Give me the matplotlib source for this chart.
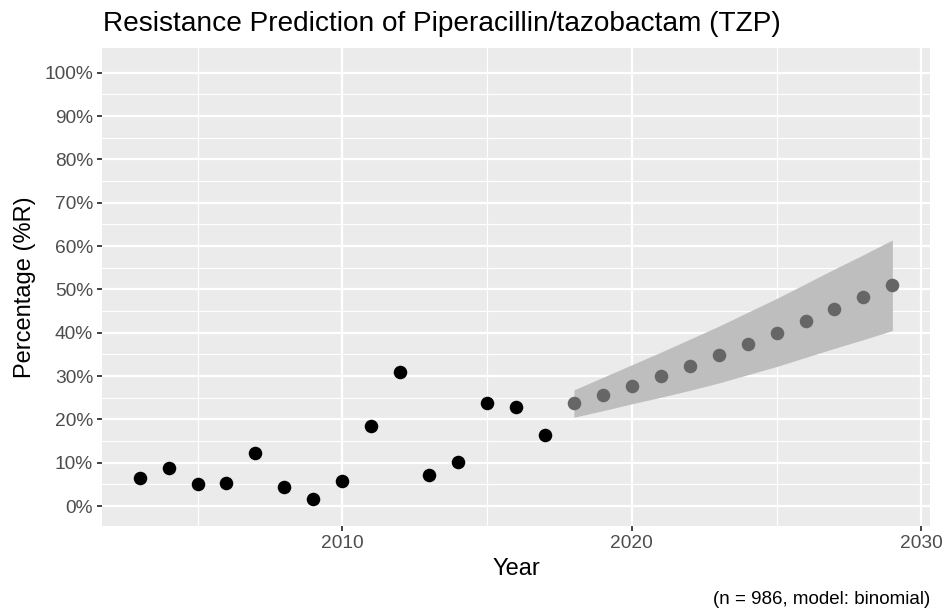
import matplotlib
matplotlib.use("Agg")
import matplotlib.pyplot as plt
from matplotlib.ticker import FixedLocator, FuncFormatter

plt.rcParams['font.family'] = ['Liberation Sans', 'DejaVu Sans']

obs_years = [2003, 2004, 2005, 2006, 2007, 2008, 2009, 2010, 2011, 2012, 2013, 2014, 2015, 2016, 2017]
obs_pct = [6.4, 8.7, 5.2, 5.3, 12.3, 4.3, 1.7, 5.8, 18.4, 31.0, 7.1, 10.1, 23.8, 22.8, 16.5]

pred_years = [2018, 2019, 2020, 2021, 2022, 2023, 2024, 2025, 2026, 2027, 2028, 2029]
pred_pct = [23.7, 25.7, 27.8, 30.1, 32.4, 34.9, 37.4, 40.0, 42.8, 45.5, 48.2, 51.0]
pred_upper = [26.8, 29.7, 32.6, 35.5, 38.5, 41.5, 44.7, 47.9, 51.3, 54.7, 58.0, 61.4]
pred_lower = [20.5, 22.0, 23.6, 25.1, 26.7, 28.4, 30.3, 32.2, 34.3, 36.4, 38.4, 40.5]

y_ticks = [0, 10, 20, 30, 40, 50, 60, 70, 80, 90, 100]
x_ticks = [2010, 2020, 2030]

fig = plt.figure(figsize=(9.45, 6.14), dpi=100)
ax = fig.add_axes([102/945, 1-526/614, (930-102)/945, (526-48)/614])
ax.set_facecolor('#EBEBEB')
for s in ax.spines.values():
    s.set_visible(False)

ax.set_xlim(2001.7, 2030.3)
ax.set_ylim(-4.6, 105.7)

ax.xaxis.set_major_locator(FixedLocator(x_ticks))
ax.xaxis.set_minor_locator(FixedLocator([2005, 2015, 2025]))
ax.yaxis.set_major_locator(FixedLocator(y_ticks))
ax.yaxis.set_minor_locator(FixedLocator([5, 15, 25, 35, 45, 55, 65, 75, 85, 95]))
ax.yaxis.set_major_formatter(FuncFormatter(lambda v, p: f"{int(v)}%"))

ax.grid(which='major', color='white', linewidth=1.6, zorder=0)
ax.grid(which='minor', color='white', linewidth=0.8, zorder=0)
ax.set_axisbelow(True)
ax.tick_params(which='major', length=3.3, width=1.3, color='#333333',
               labelsize=13.8, labelcolor='#4D4D4D', pad=3.2)
ax.tick_params(which='minor', length=0)

ax.fill_between(pred_years, pred_lower, pred_upper, color='#BEBEBE', linewidth=0, zorder=2)
ax.scatter(obs_years, obs_pct, s=95, color='black', linewidths=0, zorder=3)
ax.scatter(pred_years, pred_pct, s=95, color='#666666', linewidths=0, zorder=3)

ax.set_xlabel('Year', fontsize=17, labelpad=4)
ax.set_ylabel('Percentage (%R)', fontsize=17, labelpad=6)
fig.text(103/945, 1-31/614, 'Resistance Prediction of Piperacillin/tazobactam (TZP)',
         fontsize=20.2, ha='left', va='baseline')
fig.text(930/945, 1-604/614, '(n = 986, model: binomial)', fontsize=13.5,
         ha='right', va='baseline')

fig.savefig('out.png', dpi=100)
